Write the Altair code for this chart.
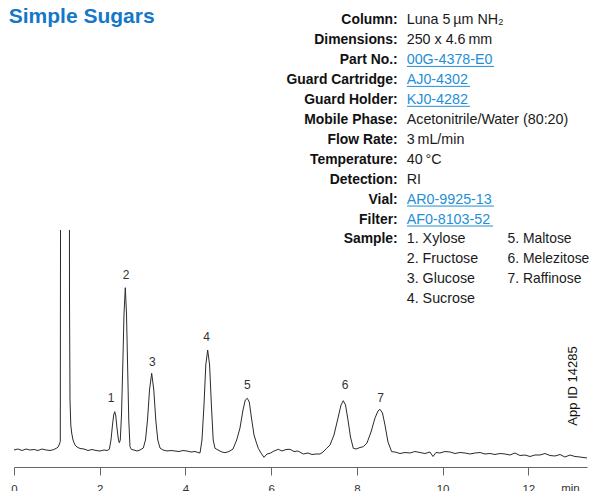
import altair as alt
import pandas as pd

# ---- chromatogram trace (time in min, detector signal, arbitrary units) ----
time_min = [0.00, 0.09, 0.19, 0.28, 0.37, 0.47, 0.56, 0.65, 0.75, 0.84, 0.93, 1.00, 1.03, 1.06, 1.08,
            1.09, 1.29, 1.295, 1.307, 1.325, 1.346, 1.377, 1.423, 1.470, 1.540, 1.633, 1.727, 1.820,
            1.913, 2.007, 2.100, 2.170, 2.224, 2.263, 2.298, 2.326, 2.350, 2.373, 2.403, 2.434, 2.457,
            2.480, 2.508, 2.536, 2.567, 2.597, 2.625, 2.653, 2.678, 2.706, 2.741, 2.800, 2.870, 2.940,
            3.017, 3.068, 3.115, 3.162, 3.213, 3.262, 3.308, 3.355, 3.407, 3.477, 3.570, 3.663, 3.756,
            3.850, 3.943, 4.036, 4.130, 4.223, 4.293, 4.340, 4.386, 4.433, 4.475, 4.519, 4.564, 4.606,
            4.648, 4.690, 4.760, 4.853, 4.923, 5.016, 5.110, 5.196, 5.273, 5.343, 5.397, 5.443, 5.490,
            5.541, 5.600, 5.658, 5.700, 5.763, 5.833, 5.903, 5.973, 6.066, 6.167, 6.253, 6.346, 6.440,
            6.533, 6.626, 6.750, 6.860, 6.953, 7.046, 7.140, 7.210, 7.296, 7.373, 7.466, 7.560, 7.630,
            7.683, 7.735, 7.793, 7.851, 7.917, 7.980, 8.073, 8.150, 8.236, 8.330, 8.423, 8.493, 8.539,
            8.598, 8.656, 8.726, 8.812, 8.889, 9.006, 9.123, 9.239, 9.356, 9.473, 9.589, 9.706, 9.776,
            9.846, 9.939, 10.056, 10.173, 10.289, 10.406, 10.523, 10.639, 10.756, 10.873, 10.989,
            11.106, 11.223, 11.339, 11.456, 11.573, 11.689, 11.806, 11.923, 12.040, 12.156, 12.273,
            12.389, 12.506, 12.623, 12.740, 12.856, 12.973, 13.090, 13.206, 13.370]
signal = [0, 1, -0.5, 1, 0, 0.5, -0.5, 1, 0, -0.5, 0.5, 2, 3, 6, 8.5,
          400, 400, 150, 50, 25, 17, 10, 5, 3, 1.5, 1, -0.5, 0.5,
          -0.5, -1, 0, -0.5, 0.7, 10, 25, 35, 38.3, 35, 22, 11, 7.3,
          10, 35, 80, 136, 162.3, 136, 80, 30, 3.3, 0.5, 0, -1, 0,
          2, 10, 30, 60, 76.7, 60, 30, 10, 2, 0, -1, -0.5, -1,
          -1.5, -0.5, -1, -2, -1.5, -2.5, -3, 10, 45, 85, 100, 85, 45,
          10, 1.7, 0, -2, -2.7, -1.5, 1, 10, 22, 40, 50, 51.7, 48,
          32, 15, 7, 1.7, -3, -7.3, -4, -3.3, -1, 0.7, -1, 0.5, 0.7,
          -1.5, -1, -4, -3, -4.5, -4, -4, -2, 1.7, 5, 15, 32, 45,
          49.3, 45, 30, 13, 1.7, 1, 2.5, 3.3, 7, 18, 32, 39, 40.7,
          37, 25, 8, -1.7, -2, -3.5, -2.5, -3, -1.5, -2.5, -3.5, -2, -6.5,
          -2.5, -3, -1.5, -2, -3.5, -2.5, -3, -4, -3, -2.5, -4,
          -3.5, -4.5, -3.5, -4, -5, -3, -5.5, -5, -6.5, -5, -5,
          -3.5, -5.5, -6, -4.5, -7, -5, -6.5, -7, -8]

# ---- peak labels ----
peak_ids = ["1", "2", "3", "4", "5", "6", "7"]
peak_label_time = [2.263, 2.613, 3.227, 4.496, 5.443, 7.723, 8.556]
peak_label_signal = [51.7, 175, 88.3, 113.3, 65, 65, 51.7]

x_ticks = [0, 2, 4, 6, 8, 10, 12]

# ---- method text ----
param_labels = ["Column:", "Dimensions:", "Part No.:", "Guard Cartridge:", "Guard Holder:",
                "Mobile Phase:", "Flow Rate:", "Temperature:", "Detection:", "Vial:", "Filter:",
                "Sample:"]
param_values = ["Luna 5\u2009\u00b5m NH\u2082", "250 x 4.6\u2009mm", "00G-4378-E0", "AJ0-4302",
                "KJ0-4282", "Acetonitrile/Water (80:20)", "3\u2009mL/min", "40\u2009\u00b0C", "RI",
                "AR0-9925-13", "AF0-8103-52", "1. Xylose"]
param_is_link = [False, False, True, True, True, False, False, False, False, True, True, False]
link_end_px = {2: 494, 3: 470, 4: 470, 9: 494, 10: 493}
sample_col1_more = ["2. Fructose", "3. Glucose", "4. Sucrose"]
sample_col2 = ["5. Maltose", "6. Melezitose", "7. Raffinose"]

TITLE = "Simple Sugars"
APP_ID = "App ID 14285"

# layout constants (page px -> plot px)
OX, OY = 14, 230
W, H = 573, 237
SANS = "Liberation Sans, Arial, Helvetica, sans-serif"
BLUE_T = "#1378c8"
BLUE_L = "#1f8fd6"


def row_base(i):
    return 24 + 19.95 * i - OY


trace = pd.DataFrame({"t": time_min, "s": signal})
xs = alt.Scale(domain=[0, 13.37], nice=False, zero=False)
ys = alt.Scale(domain=[-17, 220], nice=False, zero=False)

line = alt.Chart(trace).mark_line(color="#2b2b2b", strokeWidth=1, clip=True).encode(
    x=alt.X("t:Q", scale=xs,
            axis=alt.Axis(values=x_ticks, format="d", title=None, grid=False,
                          domainColor="#666666", tickColor="#666666", tickSize=8,
                          labelPadding=8, labelFont=SANS, labelFontSize=11.5,
                          labelColor="#333333", labelFlush=False)),
    y=alt.Y("s:Q", scale=ys, axis=None),
)

labels_df = pd.DataFrame({"id": peak_ids, "t": peak_label_time, "s": peak_label_signal})
peak_text = alt.Chart(labels_df).mark_text(font=SANS, fontSize=12, color="#333333",
                                            baseline="middle", align="center").encode(
    x=alt.X("t:Q", scale=xs), y=alt.Y("s:Q", scale=ys), text="id:N")

layers = [line, peak_text]

anchor = pd.DataFrame({"a": [0]})


def txt(text, x, y, **kw):
    return alt.Chart(anchor).mark_text(text=text, **kw).encode(x=alt.value(x), y=alt.value(y))


layers.append(txt(TITLE, 8.7 - OX, 22.7 - OY, font=SANS, fontSize=21, fontWeight="bold",
                  color=BLUE_T, align="left", baseline="alphabetic"))

LAB_FS = 13.9
VAL_FS = 14.3

for i, (lab, val, link) in enumerate(zip(param_labels, param_values, param_is_link)):
    yb = row_base(i)
    layers.append(txt(lab, 397.7 - OX, yb, font=SANS, fontSize=LAB_FS, fontWeight="bold",
                      color="#111111", align="right", baseline="alphabetic"))
    layers.append(txt(val, 406.7 - OX, yb, font=SANS, fontSize=VAL_FS,
                      color=BLUE_L if link else "#1a1a1a", align="left", baseline="alphabetic"))
    if link:
        layers.append(alt.Chart(anchor).mark_rule(color=BLUE_L, strokeWidth=1).encode(
            x=alt.value(407 - OX), x2=alt.value(link_end_px[i] - OX), y=alt.value(yb + 2.5)))

for j, s in enumerate(sample_col1_more):
    layers.append(txt(s, 406.7 - OX, row_base(12 + j), font=SANS, fontSize=VAL_FS,
                      color="#1a1a1a", align="left", baseline="alphabetic"))
for j, s in enumerate(sample_col2):
    layers.append(txt(s, 507.5 - OX, row_base(11 + j), font=SANS, fontSize=13.9,
                      color="#1a1a1a", align="left", baseline="alphabetic"))

layers.append(txt(APP_ID, 573.3 - OX, 386 - OY, font=SANS, fontSize=13, color="#111111",
                  angle=270, align="center", baseline="middle"))
layers.append(txt("min", 570.5 - OX, 492 - OY, font=SANS, fontSize=11.5, color="#333333",
                  align="center", baseline="alphabetic"))

chart = alt.layer(*layers).properties(
    width=W, height=H,
    autosize=alt.AutoSizeParams(type="none"),
    padding={"left": 6, "top": 222, "right": 2, "bottom": 24},
).configure_view(stroke=None)

chart.save("out.html", embed_options={"renderer": "svg", "actions": False})
